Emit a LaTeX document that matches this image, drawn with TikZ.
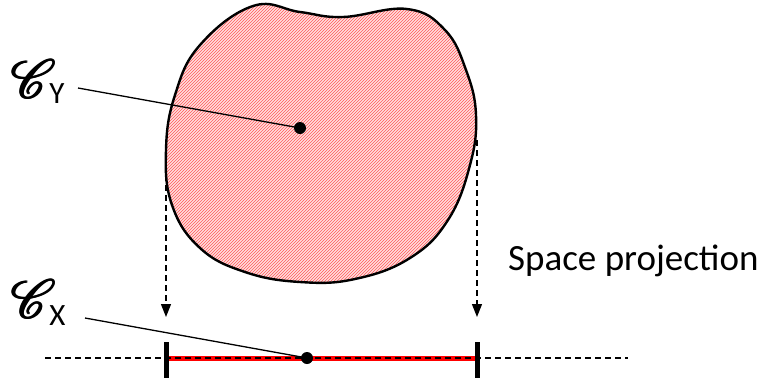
\documentclass[tikz,border=0pt]{standalone}
\usepackage{fontspec}
\setmainfont{Carlito}
\usepackage{mathrsfs}
\usepackage{graphicx}
\usetikzlibrary{arrows.meta,patterns}

% heavy script C for the centre labels
\newcommand{\scrC}{\scalebox{5.4}{$\mathscr{C}$}}
\newcommand{\fatC}{\rlap{\scrC}\rlap{\kern1pt\scrC}\rlap{\raisebox{0.8pt}{\scrC}}\kern1pt\raisebox{0.8pt}{\scrC}}

\begin{document}
\begin{tikzpicture}[x=1pt,y=-1pt,>={Triangle[width=10pt,length=13pt]},
    proj/.style={line width=1.3pt,dash pattern=on 6pt off 4pt},
    leader/.style={line width=1.3pt},
    tick/.style={line width=5pt},
    centre/.style={circle,fill=black,inner sep=0pt,minimum size=12pt}]
    \useasboundingbox (0,0) rectangle (769,381);

    % Draw the region in Y
    \fill[red!13]
      plot[smooth cycle,tension=0.7] coordinates {(253,6) (300,12) (343,17)
      (407,9) (445,30) (466,70) (476,115) (470,165) (448,220) (410,258)
      (355,279) (300,282) (245,272) (200,248) (172,205) (166,150) (175,95)
      (200,45)};
    \draw[line width=2.4pt,pattern=north east lines,pattern color=red!65]
      plot[smooth cycle,tension=0.7] coordinates {(253,6) (300,12) (343,17)
      (407,9) (445,30) (466,70) (476,115) (470,165) (448,220) (410,258)
      (355,279) (300,282) (245,272) (200,248) (172,205) (166,150) (175,95)
      (200,45)};

    % Axis and projected interval
    \coordinate (axL) at (45,358);
    \coordinate (axR) at (628,358);
    \coordinate (pL) at (166,358);
    \coordinate (pR) at (477,358);
    \draw[red,line width=5pt] (pL) -- (pR);
    \draw[line width=1.2pt,dash pattern=on 6pt off 4pt] (axL) -- (axR);
    \draw[tick] (166,342) -- (166,378);
    \draw[tick] (477,342) -- (477,378);

    % Projection arrows
    \coordinate (topL) at (166,145);
    \coordinate (topR) at (477,140);
    \coordinate (tipL) at (166,317);
    \coordinate (tipR) at (477,317);
    \draw[proj,->] (topL) -- (tipL);
    \draw[proj,->] (topR) -- (tipR);

    % Centre points
    \node[centre] (cy) at (300,128) {};
    \node[centre] (cx) at (307,358) {};

    % Labels
    \node[anchor=base west,inner sep=0pt] (lblY) at (10,103)
      {\raisebox{5pt}{\fatC}\kern-7pt\fontsize{31}{31}\selectfont Y};
    \node[anchor=base west,inner sep=0pt] (lblX) at (10,325)
      {\raisebox{7pt}{\fatC}\kern-7pt\fontsize{31}{31}\selectfont X};
    \coordinate (tailY) at (78,88);
    \coordinate (tailX) at (85,318);
    \draw[leader] (tailY) -- (cy.center);
    \draw[leader] (tailX) -- (cx.center);

    \node[anchor=base west,inner sep=0pt] (spc) at (508,270)
      {\fontsize{37}{44}\selectfont Space projection};
\end{tikzpicture}
\end{document}
